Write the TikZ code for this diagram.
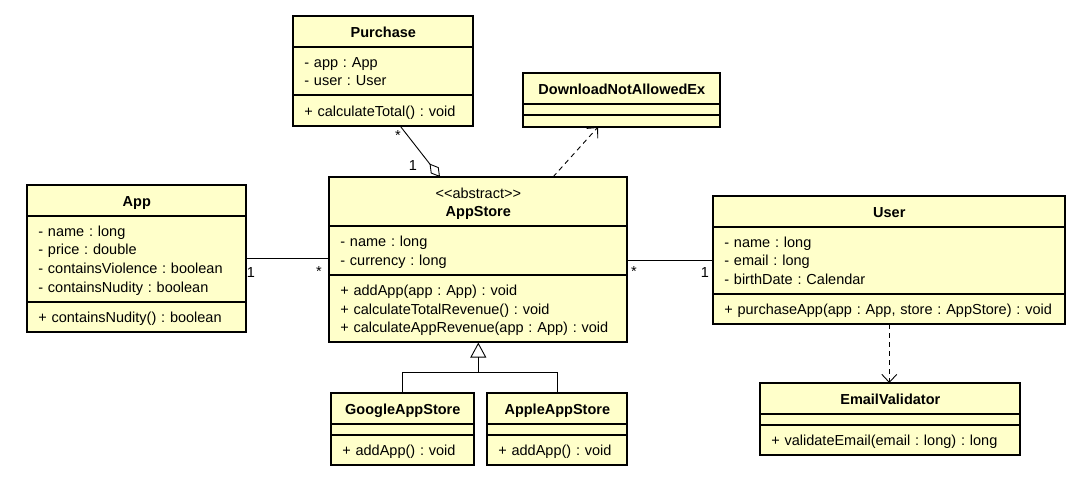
\documentclass[tikz,border=0pt]{standalone}
\usepackage{fontspec}
\setmainfont{Liberation Sans}
\usetikzlibrary{shapes.multipart,arrows.meta}

\definecolor{classfill}{RGB}{255,255,202}
\newcommand{\umlfont}{\fontsize{14.5}{18.6}\selectfont\frenchspacing}
\newcommand{\lstrut}{\rule[-3.6pt]{0pt}{18.6pt}}
\newcommand{\cpart}[1]{\lstrut#1\lstrut}
\newcommand{\ctitle}[1]{\lstrut\hfill#1\hfill\lstrut}

\tikzset{
  umlclass/.style={rectangle split, rectangle split parts=3, draw, line width=0.6pt,
    fill=classfill, font=\umlfont, align=left, inner xsep=11pt, inner ysep=5.5pt,
    rectangle split empty part height=0pt, rectangle split empty part depth=0pt,
    anchor=north west, postaction={draw, line width=2pt}},
  assoc/.style={line width=0.9pt},
  depend/.style={line width=0.9pt, dash pattern=on 5pt off 4pt, -{Straight Barb[length=8pt,width=15pt]}},
  aggreg/.style={line width=0.9pt, -{Diamond[open,length=17pt,width=10pt]}},
  inherit/.style={line width=0.9pt, -{Triangle[open,length=15pt,width=16pt]}},
  mult/.style={font=\umlfont, inner sep=0pt}
}

\begin{document}
\begin{tikzpicture}[x=1pt,y=-1pt]
    \useasboundingbox[fill=white] (0,0) rectangle (1080,491);

    % classes
    \node[umlclass, text width=158pt] (purchase) at (293,16)
        {\ctitle{\textbf{Purchase}}
         \nodepart{second}\cpart{- app : App\\- user : User}
         \nodepart{third}\cpart{+ calculateTotal() : void}};
    \node[umlclass, text width=175pt] (download) at (523,73)
        {\ctitle{\textbf{DownloadNotAllowedEx}}
         \nodepart{second}
         \nodepart{third}};
    \node[umlclass, text width=276pt] (appstore) at (329,177)
        {\ctitle{\textless\kern0pt\textless abstract\textgreater\kern0pt\textgreater}\\\ctitle{\textbf{AppStore}}
         \nodepart{second}\cpart{- name : long\\- currency : long}
         \nodepart{third}\cpart{+ addApp(app : App) : void\\+ calculateTotalRevenue() : void\\+ calculateAppRevenue(app : App) : void}};
    \node[umlclass, text width=197pt] (app) at (27,185)
        {\ctitle{\textbf{App}}
         \nodepart{second}\cpart{- name : long\\- price : double\\- containsViolence : boolean\\- containsNudity : boolean}
         \nodepart{third}\cpart{+ containsNudity() : boolean}};
    \node[umlclass, text width=330pt] (user) at (713,196)
        {\ctitle{\textbf{User}}
         \nodepart{second}\cpart{- name : long\\- email : long\\- birthDate : Calendar}
         \nodepart{third}\cpart{+ purchaseApp(app : App, store : AppStore) : void}};
    \node[umlclass, text width=121pt] (google) at (331,393)
        {\ctitle{\textbf{GoogleAppStore}}
         \nodepart{second}
         \nodepart{third}\cpart{+ addApp() : void}};
    \node[umlclass, text width=118pt] (apple) at (487,393)
        {\ctitle{\textbf{AppleAppStore}}
         \nodepart{second}
         \nodepart{third}\cpart{+ addApp() : void}};
    \node[umlclass, text width=238pt] (email) at (760,383)
        {\ctitle{\textbf{EmailValidator}}
         \nodepart{second}
         \nodepart{third}\cpart{+ validateEmail(email : long) : long}};

    % relations
    \draw[aggreg] ([xshift=107pt]purchase.south west) -- ([xshift=111pt]appstore.north west);
    \node[mult] (purchase-many) at (398,136) {*};
    \node[mult] (purchase-one) at (413,166) {1};

    \draw[depend] ([xshift=224pt]appstore.north west) -- ([xshift=75pt]download.south west);

    \draw[assoc] (app.east) -- (app.east -| appstore.west);
    \node[mult] (app-one) at (251,273) {1};
    \node[mult] (app-many) at (319,272) {*};

    \draw[assoc] (appstore.east |- user.west) -- (user.west);
    \node[mult] (user-many) at (634,272) {*};
    \node[mult] (user-one) at (705,273) {1};

    \draw[depend] (user.south) -- (user.south |- email.north);

    \coordinate (fork) at ([yshift=-30pt]appstore.south);
    \draw[inherit] (fork) -- (appstore.south);
    \draw[assoc] (google.north) |- (fork) -| (apple.north);
\end{tikzpicture}
\end{document}
